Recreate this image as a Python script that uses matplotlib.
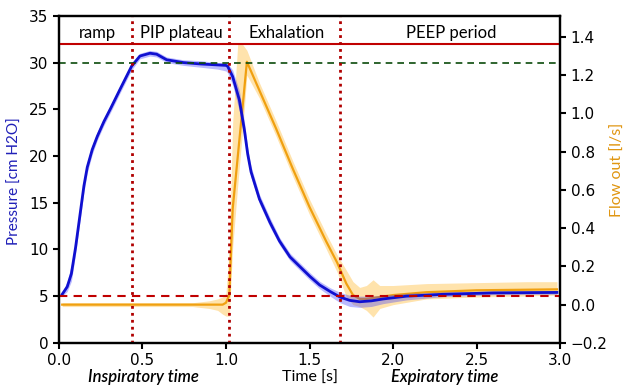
import numpy as np
import matplotlib
matplotlib.use("Agg")
import matplotlib.pyplot as plt

# Pressure curve (mean + band), cm H2O
t_p = [0.02, 0.05, 0.075, 0.10, 0.125, 0.15, 0.17, 0.20, 0.23, 0.27, 0.31, 0.365,
       0.435, 0.485, 0.545, 0.585, 0.645, 0.745, 0.85, 0.95, 1.00, 1.01, 1.04, 1.08,
       1.11, 1.13, 1.15, 1.20, 1.263, 1.32, 1.383, 1.44, 1.503, 1.56, 1.623, 1.683,
       1.74, 1.80, 1.87, 1.94, 2.08, 2.3, 2.6, 2.98]
p_mean = [5.2, 6.0, 7.4, 10.2, 13.5, 16.8, 18.8, 20.7, 22.1, 23.7, 25.1, 27.1,
          29.6, 30.7, 31.0, 30.9, 30.3, 30.0, 29.85, 29.75, 29.7, 29.6, 28.5, 26.0,
          22.8, 20.2, 18.3, 15.4, 12.9, 10.9, 9.2, 8.2, 7.1, 6.2, 5.5, 4.9,
          4.55, 4.4, 4.5, 4.7, 5.0, 5.2, 5.35, 5.4]
p_lo = [5.0, 5.5, 6.6, 9.5, 12.8, 16.1, 18.2, 20.2, 21.7, 23.3, 24.7, 26.7,
        29.2, 30.4, 30.7, 30.6, 30.0, 29.7, 29.5, 29.3, 29.1, 28.9, 27.6, 24.8,
        21.9, 19.5, 17.7, 14.9, 12.4, 10.5, 8.8, 7.8, 6.7, 5.8, 5.0, 4.3,
        3.9, 3.8, 3.9, 4.2, 4.6, 4.95, 5.15, 5.2]
p_hi = [5.4, 6.6, 8.4, 11.0, 14.2, 17.5, 19.4, 21.2, 22.6, 24.1, 25.5, 27.5,
        30.0, 31.0, 31.3, 31.2, 30.6, 30.3, 30.2, 30.0, 30.0, 29.9, 29.2, 27.0,
        23.7, 20.9, 18.9, 15.9, 13.4, 11.3, 9.6, 8.6, 7.5, 6.6, 5.9, 5.4,
        5.1, 5.0, 5.0, 5.1, 5.3, 5.45, 5.55, 5.6]

# Flow out curve (mean + band), l/s
t_f = [0.02, 0.2, 0.4, 0.6, 0.8, 0.9, 0.95, 0.98, 1.00, 1.02, 1.04, 1.07, 1.10,
       1.125, 1.2, 1.3, 1.4, 1.5, 1.6, 1.665, 1.72, 1.76, 1.80, 1.84, 1.88, 1.92,
       2.0, 2.2, 2.5, 2.8, 2.98]
f_mean = [0.0, 0.0, 0.0, 0.0, 0.0, 0.0, 0.0, 0.0, 0.01, 0.05, 0.5, 0.77, 1.04,
          1.27, 1.12, 0.92, 0.71, 0.51, 0.33, 0.22, 0.11, 0.05, 0.03, 0.03, 0.035, 0.04,
          0.05, 0.065, 0.075, 0.078, 0.08]
f_lo = [-0.01, -0.01, -0.01, -0.01, -0.01, -0.02, -0.03, -0.05, -0.06, -0.06, 0.3, 0.62, 0.92,
        1.2, 1.08, 0.88, 0.67, 0.47, 0.29, 0.17, 0.04, 0.0, -0.01, -0.03, -0.065, -0.02,
        0.0, 0.03, 0.04, 0.045, 0.05]
f_hi = [0.01, 0.01, 0.01, 0.01, 0.01, 0.02, 0.03, 0.04, 0.06, 0.3, 0.95, 1.36, 1.36,
        1.33, 1.16, 0.96, 0.75, 0.55, 0.37, 0.26, 0.18, 0.12, 0.09, 0.10, 0.13, 0.10,
        0.10, 0.11, 0.115, 0.12, 0.12]

phase_bounds = [0.44, 1.02, 1.68]
phase_names = ["ramp", "PIP plateau", "Exhalation", "PEEP period"]
phase_x = [0.23, 0.735, 1.365, 2.35]
pip_level = 32
plateau_level = 30
peep_level = 5

blue = "#1010d0"
orange = "#f0a010"
red = "#c00000"

fig = plt.figure(figsize=(6.26, 3.87), dpi=100)
ax1 = fig.add_axes([0.094, 0.114, 0.801, 0.845])
ax2 = ax1.twinx()

# flow (behind)
ax2.fill_between(t_f, f_lo, f_hi, color="#ffb930", alpha=0.4, lw=0)
ax2.plot(t_f, f_mean, color=orange, lw=1.6)

# pressure (front)
ax1.set_zorder(ax2.get_zorder() + 1)
ax1.patch.set_visible(False)
ax1.fill_between(t_p, p_lo, p_hi, color="#3a3aff", alpha=0.35, lw=0)
ax1.plot(t_p, p_mean, color=blue, lw=2)

ax1.axhline(pip_level, color=red, lw=1.5)
ax1.axhline(plateau_level, color="#0b4a0b", lw=1.2, ls=(0, (4, 3)))
ax1.axhline(peep_level, color=red, lw=1.5, ls=(0, (4, 3)))
for xb in phase_bounds:
    ax1.axvline(xb, color="#b00000", lw=2, ls=(0, (1, 1.5)))

for name, xp in zip(phase_names, phase_x):
    ax1.text(xp, 33.2, name, ha="center", va="center", fontsize=12, family="Lato")

ax1.set_xlim(0, 3)
ax1.set_ylim(0, 35)
ax2.set_ylim(-0.2, 1.51)
ax1.set_xticks([0, 0.5, 1, 1.5, 2, 2.5, 3])
ax1.set_yticks([0, 5, 10, 15, 20, 25, 30, 35])
ax2.set_yticks([-0.2, 0, 0.2, 0.4, 0.6, 0.8, 1.0, 1.2, 1.4])

for ax in (ax1, ax2):
    ax.tick_params(labelsize=11, width=1.5, length=4)
    for s in ax.spines.values():
        s.set_linewidth(1.6)

ax1.set_ylabel("Pressure [cm H2O]", color="#2020b8", fontsize=11, family="Lato")
ax1.yaxis.set_label_coords(-0.074, 0.495)
ax2.set_ylabel("Flow out [l/s]", color="#e09612", fontsize=11.5, family="Lato")
ax2.yaxis.set_label_coords(1.10, 0.53)
ax1.set_xlabel("Time [s]", fontsize=11.5, family="Lato", labelpad=2)

ax1.text(0.506, -0.105, "Inspiratory time", transform=ax1.get_xaxis_transform(),
         ha="center", va="center", fontsize=12, family="Lato", style="italic", weight="semibold")
ax1.text(2.31, -0.105, "Expiratory time", transform=ax1.get_xaxis_transform(),
         ha="center", va="center", fontsize=12, family="Lato", style="italic", weight="semibold")

fig.savefig("out.png", dpi=100)
